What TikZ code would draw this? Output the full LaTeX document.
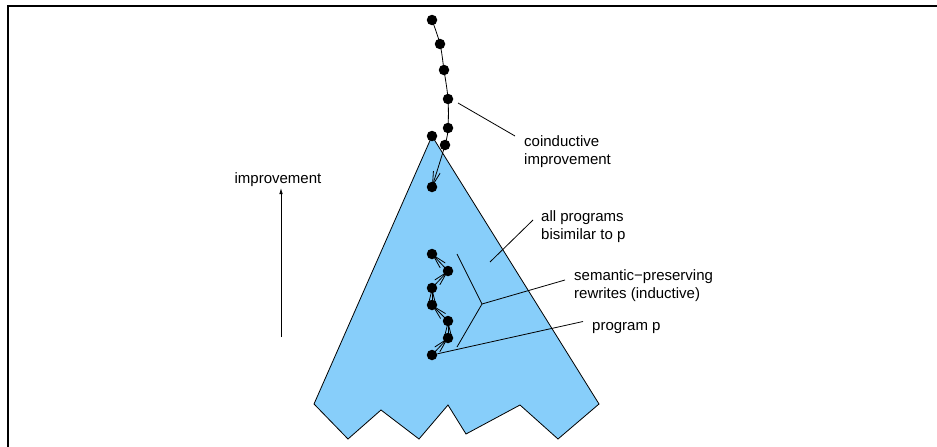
\documentclass[tikz,border=0pt]{standalone}
\usepackage{fontspec}
\setmainfont{Liberation Sans}
\usetikzlibrary{arrows.meta}
\definecolor{skyfill}{RGB}{135,206,250}
\begin{document}
\begin{tikzpicture}[x=1pt,y=-1pt,
  dot/.style={circle,fill=black,inner sep=0pt,minimum size=10.5pt},
  lbl/.style={anchor=base west,inner sep=0pt,align=left,font=\fontsize{15}{17.5}\selectfont},
  lblc/.style={anchor=base,inner sep=0pt,font=\fontsize{15}{17.5}\selectfont},
  thinline/.style={line width=0.8pt},
  arr/.style={line width=0.8pt,-{Straight Barb[length=14pt,width=7pt]}},
  bigarr/.style={line width=0.8pt,-{Latex[length=6pt,width=3.5pt]}},
]
\useasboundingbox (0,0) rectangle (937,447);
% frame
\draw[line width=2pt] (7.5,447) -- (7.5,5.5) -- (937,5.5);
% region of bisimilar programs
\draw[fill=skyfill,line width=0.8pt,line join=miter]
  (432,136) -- (599,404) -- (558,439) -- (520,405) -- (466,434) -- (448,405)
  -- (419,439) -- (381,410) -- (348,439) -- (314,404) -- cycle;
% improvement arrow
\coordinate (ia) at (281,337);
\coordinate (ib) at (281,188);
\node[lblc] (impl) at (278,183.5) {improvement};
\draw[bigarr] (ia) -- (ib);
% top chain
\coordinate (t1) at (432,20);
\coordinate (t2) at (440,44);
\coordinate (t3) at (444,70);
\coordinate (t4) at (448,99);
\coordinate (t5) at (448,128);
\coordinate (t6) at (445,145);
\coordinate (t7) at (432,187);
\draw[arr] plot[smooth,tension=0.55] coordinates {(t1) (t2) (t3) (t4) (t5) (t6) (t7)};
\foreach \n in {t1,t2,t3,t4,t5,t6,t7} \node[dot] (d\n) at (\n) {};
\node[dot] (apex) at (432,136) {};
% lower chain
\coordinate (b1) at (432,254);
\coordinate (b2) at (448,271);
\coordinate (b3) at (432,288);
\coordinate (b4) at (432,305);
\coordinate (b5) at (448,321);
\coordinate (b6) at (448,338);
\coordinate (b7) at (432,355);
\draw[arr] (b7) -- (b6);
\draw[arr] (b6) -- (b5);
\draw[arr] (b5) -- (b4);
\draw[arr] (b4) -- (b3);
\draw[arr] (b3) -- (b2);
\draw[arr] (b2) -- (b1);
\foreach \n in {b1,b2,b3,b4,b5,b6,b7} \node[dot] (d\n) at (\n) {};
% labels and leaders
\node[lbl] (coind) at (524,164) {coinductive\\improvement};
\coordinate (c0) at (458,103);
\coordinate (c1) at (515,136);
\draw[thinline] (c0) -- (c1);
\node[lbl] (bisim) at (541,239) {all programs\\bisimilar to p};
\coordinate (a0) at (490,262);
\coordinate (a1) at (533,220);
\draw[thinline] (a0) -- (a1);
\node[lbl] (sem) at (574,298) {semantic−preserving\\rewrites (inductive)};
\coordinate (f0) at (457,254);
\coordinate (f1) at (482,304);
\coordinate (f2) at (457,347);
\coordinate (f3) at (565,280);
\draw[thinline] (f0) -- (f1) -- (f2);
\draw[thinline] (f1) -- (f3);
\node[lbl] (prog) at (592,330.5) {program p};
\coordinate (p1) at (583,321.5);
\draw[thinline] (db7) -- (p1);
\end{tikzpicture}
\end{document}
